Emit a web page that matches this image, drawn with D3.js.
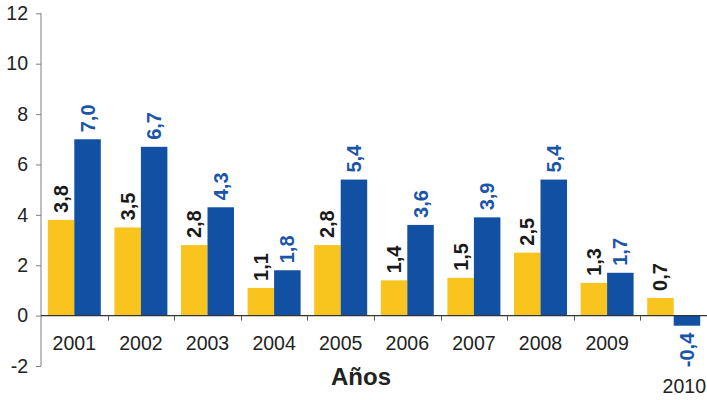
<!DOCTYPE html>
<html lang="es">
<head>
<meta charset="utf-8">
<script src="https://d3js.org/d3.v7.min.js"></script>
<style>
  body { margin: 0; background: #fff; }
  svg { font-family: 'Liberation Sans', Arial, sans-serif; }
  .val { font-weight: bold; font-size: 20px; }
</style>
</head>
<body>
<svg width="707" height="400"></svg>
<script>
// datos
var years = ["2001","2002","2003","2004","2005","2006","2007","2008","2009","2010"];
var serieA = [3.8, 3.5, 2.8, 1.1, 2.8, 1.4, 1.5, 2.5, 1.3, 0.7];
var serieB = [7.0, 6.7, 4.3, 1.8, 5.4, 3.6, 3.9, 5.4, 1.7, -0.4];
var yTicks = [-2, 0, 2, 4, 6, 8, 10, 12];

var colA = "#f9c41d", colB = "#1150a2";
var fs = 19.5;

var svg = d3.select("svg");

var x = d3.scaleBand().domain(years).range([41, 707]);
var x1 = d3.scaleBand().domain(["a", "b"]).range([0, x.bandwidth()]).paddingOuter(0.257);
var y = d3.scaleLinear().domain([-2, 12]).range([366, 13.3]);

var fmt = function(v) { return v.toFixed(1).replace(".", ","); };

var rows = years.map(function(d, i) { return { year: d, a: serieA[i], b: serieB[i] }; });

// eje y
var yAxis = svg.append("g")
    .attr("transform", "translate(41,0)")
    .call(d3.axisLeft(y).tickValues(yTicks).tickSize(5).tickPadding(8).tickFormat(function(d) { return String(d); }));
yAxis.select(".domain").attr("stroke", "#7f7f7f").attr("d", "M0," + y(12) + "V" + y(-2));
yAxis.selectAll(".tick line").attr("stroke", "#7f7f7f");
yAxis.selectAll("text").attr("font-size", fs).attr("fill", "#222").attr("font-family", "'Liberation Sans', Arial, sans-serif");

// barras
var g = svg.selectAll(".grp").data(rows).enter().append("g")
    .attr("transform", function(d) { return "translate(" + x(d.year) + ",0)"; });

g.append("rect")
    .attr("x", x1("a")).attr("width", x1.bandwidth())
    .attr("y", function(d) { return y(Math.max(0, d.a)); })
    .attr("height", function(d) { return Math.abs(y(d.a) - y(0)); })
    .attr("fill", colA);
g.append("rect")
    .attr("x", x1("b")).attr("width", x1.bandwidth())
    .attr("y", function(d) { return y(Math.max(0, d.b)); })
    .attr("height", function(d) { return Math.abs(y(d.b) - y(0)); })
    .attr("fill", colB);

// etiquetas de valor (giradas)
function label(key, color) {
  g.append("text").attr("class", "val")
    .attr("fill", color)
    .attr("transform", function(d) {
      var v = d[key], cx = x1(key) + x1.bandwidth() / 2;
      var yy = v >= 0 ? y(v) - 7 : y(v) + 7;
      return "translate(" + cx + "," + yy + ") rotate(-90)";
    })
    .attr("text-anchor", function(d) { return d[key] >= 0 ? "start" : "end"; })
    .attr("dy", "0.35em")
    .text(function(d) { return fmt(d[key]); });
}
label("a", "#1a1a1a");
label("b", "#1a55a8");

// eje x
svg.append("line")
    .attr("x1", 41).attr("x2", 707).attr("y1", y(0)).attr("y2", y(0))
    .attr("stroke", "#333").attr("stroke-width", 1.2);
svg.selectAll(".xt").data(years.slice(1)).enter().append("line")
    .attr("x1", function(d) { return Math.round(x(d)) + 0.5; })
    .attr("x2", function(d) { return Math.round(x(d)) + 0.5; })
    .attr("y1", y(0)).attr("y2", y(0) + 5)
    .attr("stroke", "#555");

// 2010 va más abajo para dejar sitio a la etiqueta negativa
svg.selectAll(".xl").data(years).enter().append("text")
    .attr("x", function(d) { return d === "2010" ? 706 : x(d) + x.bandwidth() / 2; })
    .attr("y", function(d) { return d === "2010" ? 393 : 350; })
    .attr("text-anchor", function(d) { return d === "2010" ? "end" : "middle"; })
    .attr("font-size", fs).attr("fill", "#222")
    .text(function(d) { return d; });

svg.append("text")
    .attr("x", 361).attr("y", 385)
    .attr("text-anchor", "middle")
    .attr("font-size", 24).attr("font-weight", "bold").attr("fill", "#222")
    .text("Años");
</script>
</body>
</html>
